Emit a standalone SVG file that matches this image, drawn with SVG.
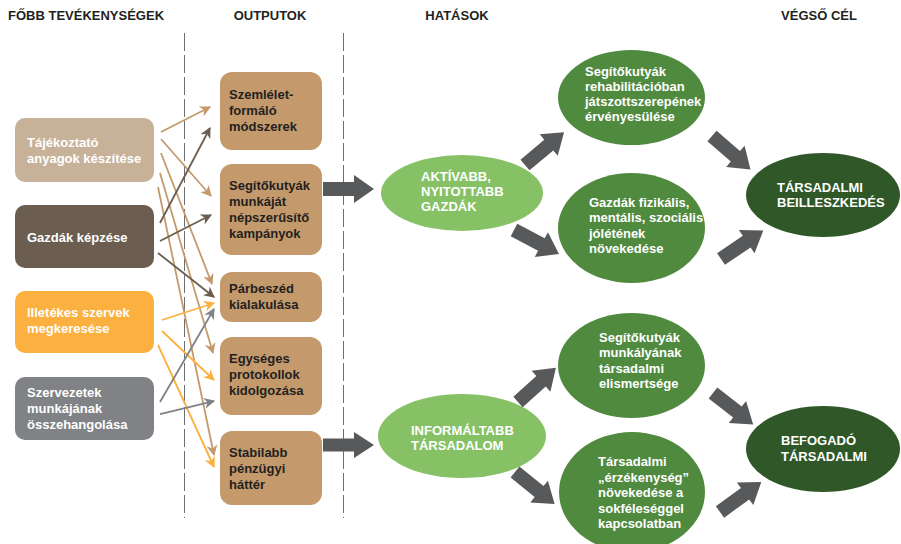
<svg xmlns="http://www.w3.org/2000/svg" xmlns:xlink="http://www.w3.org/1999/xlink" width="901" height="544" viewBox="0 0 901 544">
<style>
text{font-family:"Liberation Sans",Arial,sans-serif;font-weight:bold;font-size:13px}
.hdr{fill:#231F20}
.wt{fill:#FFFFFF}
.dk{fill:#231F20}
.div{stroke:#6D6E71;stroke-width:1;stroke-dasharray:18 4;fill:none}
.c{fill:none;stroke-width:1.8}
.tan{stroke:#C49A6C}
.brn{stroke:#6B5E50}
.yel{stroke:#FBB040}
.gry{stroke:#808285}
.out{fill:#C49A6C}
.big{fill:#58595B}
</style>
<defs>
<marker id="mTan" viewBox="0 0 10 10" refX="9" refY="5" markerWidth="11" markerHeight="11" markerUnits="userSpaceOnUse" orient="auto"><path d="M0,0 L10,5 L0,10 L3,5 Z" fill="#C49A6C"/></marker>
<marker id="mBrn" viewBox="0 0 10 10" refX="9" refY="5" markerWidth="11" markerHeight="11" markerUnits="userSpaceOnUse" orient="auto"><path d="M0,0 L10,5 L0,10 L3,5 Z" fill="#6B5E50"/></marker>
<marker id="mYel" viewBox="0 0 10 10" refX="9" refY="5" markerWidth="11" markerHeight="11" markerUnits="userSpaceOnUse" orient="auto"><path d="M0,0 L10,5 L0,10 L3,5 Z" fill="#FBB040"/></marker>
<marker id="mGry" viewBox="0 0 10 10" refX="9" refY="5" markerWidth="11" markerHeight="11" markerUnits="userSpaceOnUse" orient="auto"><path d="M0,0 L10,5 L0,10 L3,5 Z" fill="#808285"/></marker>
<path id="bigArrow" d="M0,-7 L31,-7 L31,-14 L51,0 L31,14 L31,7 L0,7 Z"/>
</defs>

<g id="headers">
<text class="hdr" x="8" y="20">FŐBB TEVÉKENYSÉGEK</text>
<text class="hdr" x="270" y="20" text-anchor="middle">OUTPUTOK</text>
<text class="hdr" x="457" y="20" text-anchor="middle">HATÁSOK</text>
<text class="hdr" x="819" y="20" text-anchor="middle">VÉGSŐ CÉL</text>
</g>

<g id="dividers">
<line class="div" x1="184.5" y1="33" x2="184.5" y2="518"/>
<line class="div" x1="343.5" y1="33" x2="343.5" y2="518"/>
</g>

<g id="act-tajekoztato">
<rect x="15" y="118" width="139" height="64" rx="10" fill="#C7B299"/>
<text class="wt" x="27" y="147">Tájékoztató</text>
<text class="wt" x="27" y="163">anyagok készítése</text>
</g>
<g id="act-gazdak">
<rect x="15" y="205" width="139" height="63" rx="10" fill="#6B5E50"/>
<text class="wt" x="27" y="242">Gazdák képzése</text>
</g>
<g id="act-illetekes">
<rect x="15" y="291" width="139" height="62" rx="10" fill="#FBB040"/>
<text class="wt" x="27" y="317">Illetékes szervek</text>
<text class="wt" x="27" y="333">megkeresése</text>
</g>
<g id="act-szervezetek">
<rect x="15" y="377" width="139" height="63" rx="10" fill="#808285"/>
<text class="wt" x="27" y="397">Szervezetek</text>
<text class="wt" x="27" y="413">munkájának</text>
<text class="wt" x="27" y="429">összehangolása</text>
</g>

<g id="out-szemlelet">
<rect class="out" x="220" y="72" width="102" height="78" rx="12"/>
<text class="dk" x="229" y="99">Szemlélet-</text>
<text class="dk" x="229" y="115">formáló</text>
<text class="dk" x="229" y="131">módszerek</text>
</g>
<g id="out-kampany">
<rect class="out" x="220" y="164" width="102" height="91" rx="12"/>
<text class="dk" x="229" y="190">Segítőkutyák</text>
<text class="dk" x="229" y="206">munkáját</text>
<text class="dk" x="229" y="222">népszerűsítő</text>
<text class="dk" x="229" y="238">kampányok</text>
</g>
<g id="out-parbeszed">
<rect class="out" x="220" y="272" width="102" height="50" rx="12"/>
<text class="dk" x="229" y="293">Párbeszéd</text>
<text class="dk" x="229" y="309">kialakulása</text>
</g>
<g id="out-protokoll">
<rect class="out" x="220" y="337" width="102" height="78" rx="12"/>
<text class="dk" x="229" y="363">Egységes</text>
<text class="dk" x="229" y="379">protokollok</text>
<text class="dk" x="229" y="395">kidolgozása</text>
</g>
<g id="out-penzugy">
<rect class="out" x="220" y="431" width="102" height="74" rx="12"/>
<text class="dk" x="229" y="457">Stabilabb</text>
<text class="dk" x="229" y="473">pénzügyi</text>
<text class="dk" x="229" y="489">háttér</text>
</g>

<g id="imp-aktivabb">
<ellipse cx="462" cy="193" rx="81" ry="38" fill="#86C166"/>
<text class="wt" x="421" y="181">AKTÍVABB,</text>
<text class="wt" x="421" y="196">NYITOTTABB</text>
<text class="wt" x="421" y="211">GAZDÁK</text>
</g>
<g id="imp-informaltabb">
<ellipse cx="462" cy="436" rx="84" ry="42" fill="#86C166"/>
<text class="wt" x="411" y="435">INFORMÁLTABB</text>
<text class="wt" x="411" y="450">TÁRSADALOM</text>
</g>

<g id="res-rehab">
<ellipse cx="631.5" cy="97.5" rx="73.5" ry="47.5" fill="#4F8A3F"/>
<text class="wt" x="585" y="76">Segítőkutyák</text>
<text class="wt" x="585" y="91">rehabilitációban</text>
<text class="wt" x="585" y="106">játszottszerepének</text>
<text class="wt" x="585" y="121">érvényesülése</text>
</g>
<g id="res-jolet">
<ellipse cx="631.5" cy="228" rx="73.5" ry="55" fill="#4F8A3F"/>
<text class="wt" x="589" y="207">Gazdák fizikális,</text>
<text class="wt" x="589" y="222">mentális, szociális</text>
<text class="wt" x="589" y="238">jólétének</text>
<text class="wt" x="589" y="253">növekedése</text>
</g>
<g id="res-elismert">
<ellipse cx="631.5" cy="365.5" rx="73.5" ry="52.5" fill="#4F8A3F"/>
<text class="wt" x="599" y="342">Segítőkutyák</text>
<text class="wt" x="599" y="357">munkályának</text>
<text class="wt" x="599" y="373">társadalmi</text>
<text class="wt" x="599" y="388">elismertsége</text>
</g>
<g id="res-erzekenyseg">
<ellipse cx="632" cy="492" rx="73" ry="60" fill="#4F8A3F"/>
<text class="wt" x="598" y="466">Társadalmi</text>
<text class="wt" x="598" y="482">„érzékenység”</text>
<text class="wt" x="598" y="497">növekedése a</text>
<text class="wt" x="598" y="513">sokféleséggel</text>
<text class="wt" x="598" y="528">kapcsolatban</text>
</g>

<g id="goal-beilleszkedes">
<ellipse cx="823" cy="195" rx="77" ry="42" fill="#2F5728"/>
<text class="wt" x="777" y="192">TÁRSADALMI</text>
<text class="wt" x="777" y="207">BEILLESZKEDÉS</text>
</g>
<g id="goal-befogado">
<ellipse cx="823" cy="449" rx="77" ry="43" fill="#2F5728"/>
<text class="wt" x="781" y="445">BEFOGADÓ</text>
<text class="wt" x="781" y="461">TÁRSADALMI</text>
</g>

<g id="connectors">
<line class="c tan" x1="161" y1="132" x2="210" y2="107" marker-end="url(#mTan)"/>
<line class="c tan" x1="161" y1="139" x2="211" y2="196" marker-end="url(#mTan)"/>
<line class="c tan" x1="161" y1="153" x2="212" y2="284" marker-end="url(#mTan)"/>
<line class="c tan" x1="160" y1="173" x2="213" y2="353" marker-end="url(#mTan)"/>
<line class="c tan" x1="158" y1="187" x2="214" y2="455" marker-end="url(#mTan)"/>
<line class="c brn" x1="160" y1="223" x2="210" y2="128" marker-end="url(#mBrn)"/>
<line class="c brn" x1="160" y1="241" x2="211" y2="215" marker-end="url(#mBrn)"/>
<line class="c brn" x1="158" y1="253" x2="214" y2="297" marker-end="url(#mBrn)"/>
<line class="c yel" x1="162" y1="320" x2="214" y2="303" marker-end="url(#mYel)"/>
<line class="c yel" x1="162" y1="331" x2="214" y2="380" marker-end="url(#mYel)"/>
<line class="c yel" x1="158" y1="345" x2="214" y2="467" marker-end="url(#mYel)"/>
<line class="c gry" x1="160" y1="402" x2="214" y2="309" marker-end="url(#mGry)"/>
<line class="c gry" x1="160" y1="414" x2="214" y2="401" marker-end="url(#mGry)"/>
<g class="big">
<use xlink:href="#bigArrow" href="#bigArrow" transform="translate(323,189)"/>
<use xlink:href="#bigArrow" href="#bigArrow" transform="translate(323,445) scale(1,0.93)"/>
<use xlink:href="#bigArrow" href="#bigArrow" transform="translate(525,165) rotate(-40)"/>
<use xlink:href="#bigArrow" href="#bigArrow" transform="translate(514,230) rotate(28)"/>
<use xlink:href="#bigArrow" href="#bigArrow" transform="translate(712,136) rotate(41)"/>
<use xlink:href="#bigArrow" href="#bigArrow" transform="translate(721,259) rotate(-34)"/>
<use xlink:href="#bigArrow" href="#bigArrow" transform="translate(518,402) rotate(-42)"/>
<use xlink:href="#bigArrow" href="#bigArrow" transform="translate(515,472) rotate(39)"/>
<use xlink:href="#bigArrow" href="#bigArrow" transform="translate(713,393) rotate(38)"/>
<use xlink:href="#bigArrow" href="#bigArrow" transform="translate(720,512) rotate(-36)"/>
</g>
</g>
</svg>
